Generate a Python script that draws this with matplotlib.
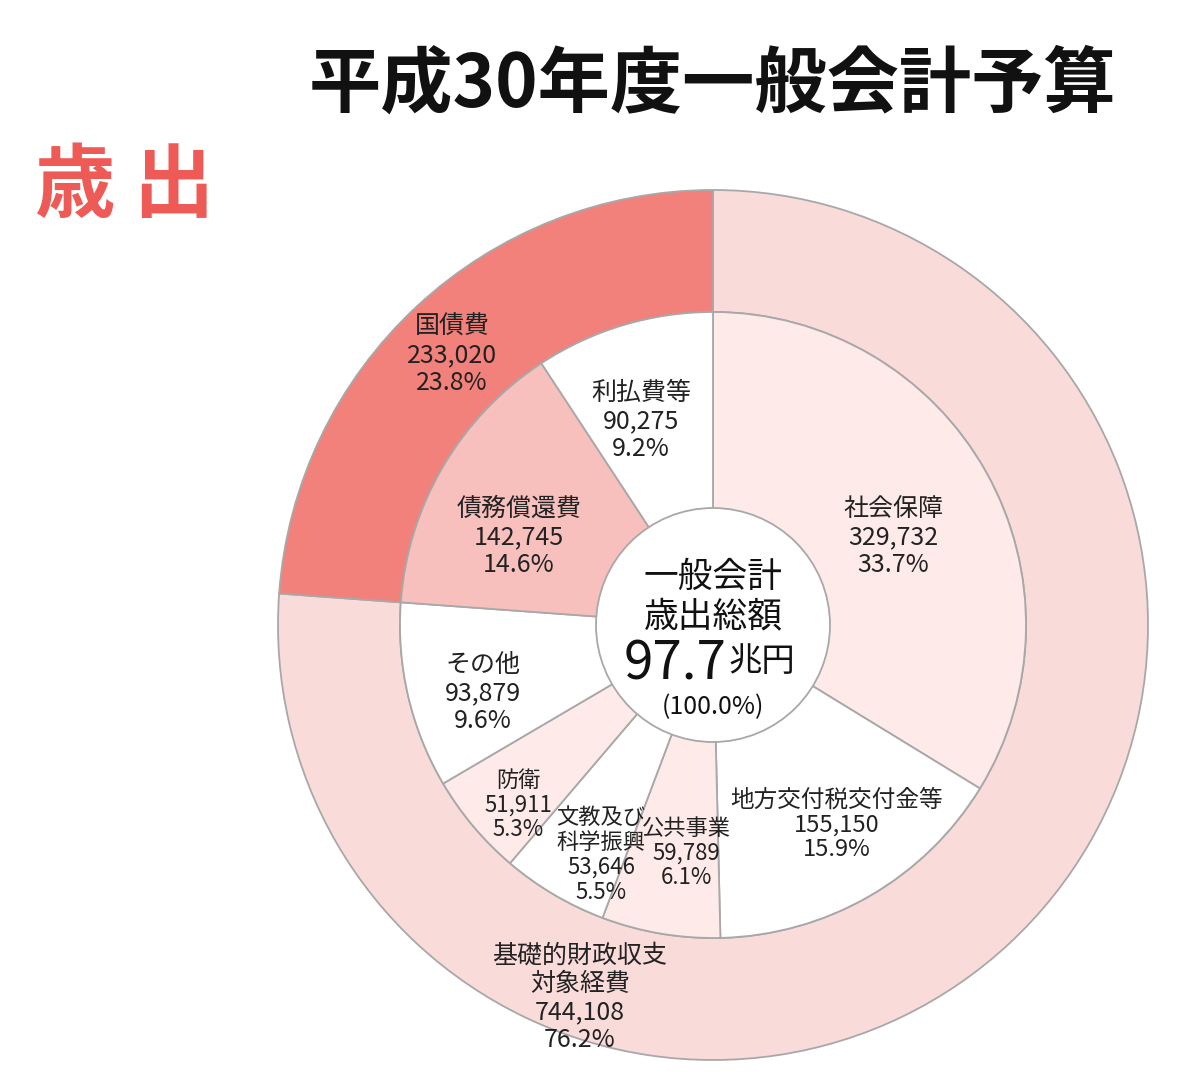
import matplotlib
matplotlib.use("Agg")
import matplotlib.pyplot as plt
from matplotlib.patches import Circle

plt.rcParams['font.family'] = ['Noto Sans CJK JP', 'DejaVu Sans']

# ---- data ----
outer_labels = ["基礎的財政収支\n対象経費", "国債費"]
outer_values = [744108, 233020]
outer_pct = ["76.2%", "23.8%"]

inner_labels = ["社会保障", "地方交付税交付金等", "公共事業", "文教及び\n科学振興",
                "防衛", "その他", "債務償還費", "利払費等"]
inner_values = [329732, 155150, 59789, 53646, 51911, 93879, 142745, 90275]
inner_pct = ["33.7%", "15.9%", "6.1%", "5.5%", "5.3%", "9.6%", "14.6%", "9.2%"]

title = "平成30年度一般会計予算"
side_title = "歳 出"
center_lines = ["一般会計", "歳出総額"]
center_total = "97.7"
center_unit = "兆円"
center_pct = "(100.0%)"

# ---- styles ----
outer_colors = ["#F9DBDA", "#F2817B"]
inner_colors = ["#FDEAE9", "#FFFFFF", "#FDEAE9", "#FFFFFF",
                "#FDEAE9", "#FFFFFF", "#F7C0BD", "#FFFFFF"]
edge = "#A8A8A8"

W, H = 1192, 1086
fig = plt.figure(figsize=(W / 100, H / 100), dpi=100)
fig.patch.set_facecolor("white")

cx, cy, R = 713, 625, 435          # pixel centre and outer radius
half = 460
ax = fig.add_axes([(cx - half) / W, (H - cy - half) / H, 2 * half / W, 2 * half / H])

r_in = 313 / R
ax.pie(outer_values, radius=1.0, colors=outer_colors, startangle=90, counterclock=False,
       wedgeprops=dict(width=1.0 - r_in, edgecolor=edge, linewidth=1.3))
ax.pie(inner_values, radius=r_in, colors=inner_colors, startangle=90, counterclock=False,
       wedgeprops=dict(edgecolor=edge, linewidth=1.3))
ax.add_patch(Circle((0, 0), 117 / R, facecolor="white", edgecolor=edge, linewidth=1.3, zorder=5))

lim = half / R
ax.set_xlim(-lim, lim)
ax.set_ylim(-lim, lim)
ax.set_aspect("equal")
ax.axis("off")


def px(x, y):
    return ((x - cx) / R, (cy - y) / R)


# label centre positions (pixels) and font sizes
inner_pos = [(893, 537), (837, 825), (686, 853), (601, 855),
             (518, 805), (483, 693), (519, 537), (641, 421)]
inner_fs = [18, 17, 16, 16, 16, 18, 18, 18]
for lab, v, p, pos, f in zip(inner_labels, inner_values, inner_pct, inner_pos, inner_fs):
    ax.text(*px(*pos), f"{lab}\n{v:,}\n{p}", ha="center", va="center",
            fontsize=f, linespacing=1.1, color="#222222", zorder=6)

outer_pos = [(580, 998), (452, 355)]
for lab, v, p, pos in zip(outer_labels, outer_values, outer_pct, outer_pos):
    ax.text(*px(*pos), f"{lab}\n{v:,}\n{p}", ha="center", va="center",
            fontsize=18, linespacing=1.1, color="#222222", zorder=6)

# centre text
ax.text(*px(713, 577), center_lines[0], ha="center", va="center", fontsize=25, zorder=7, color="#111111")
ax.text(*px(713, 617), center_lines[1], ha="center", va="center", fontsize=25, zorder=7, color="#111111")
ax.text(*px(727, 664), center_total, ha="right", va="center", fontsize=38,
        zorder=7, color="#111111")
ax.text(*px(728, 662), center_unit, ha="left", va="center", fontsize=24, zorder=7, color="#111111")
ax.text(*px(713, 707), center_pct, ha="center", va="center", fontsize=18,
        zorder=7, color="#111111")

# titles
fig.text(712 / W, 1 - 85 / H, title, ha="center", va="center", fontsize=52,
         fontweight="bold", color="#111111")
fig.text(125 / W, 1 - 188 / H, side_title, ha="center", va="center", fontsize=58,
         fontweight="bold", color="#EE5A55")

fig.savefig("out.png", dpi=100, facecolor="white")
